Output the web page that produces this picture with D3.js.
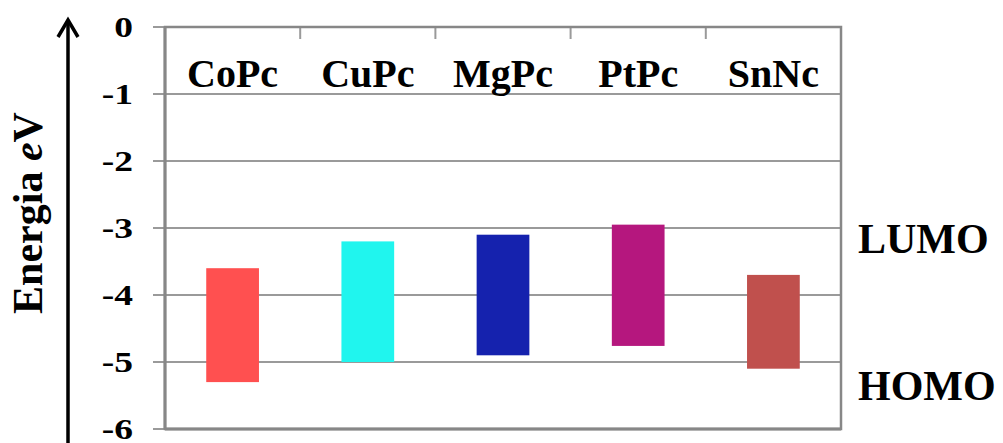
<!DOCTYPE html>
<html><head><meta charset="utf-8">
<script src="https://cdn.jsdelivr.net/npm/d3@7"></script>
<style>body{margin:0;background:#fff}svg{display:block}text{font-family:"Liberation Serif","Times New Roman",serif;font-weight:bold}</style>
</head><body>
<svg id="c" width="1003" height="443"></svg>
<script>
const categories = ["CoPc","CuPc","MgPc","PtPc","SnNc"];
const lumo = [-3.6,-3.2,-3.1,-2.95,-3.7];
const homo = [-5.3,-5.0,-4.9,-4.76,-5.1];
const colors = ["#FF5050","#20F5EE","#1522AE","#B5177E","#C0504D"];
const yTicks = [0,-1,-2,-3,-4,-5,-6];
const levelLabels = [{t:"LUMO",v:-3},{t:"HOMO",v:-5.2}];

const svg = d3.select("#c");
const L=165,R=841,T=27,B=429;
const x = d3.scaleBand().domain(categories).range([L,R]).padding(0);
const y = d3.scaleLinear().domain([0,-6]).range([T,B]);
const grey="#9a9a9a", dark="#878787";

// gridlines
svg.append("g").selectAll("line").data(yTicks.slice(1,-1)).join("line")
 .attr("x1",L).attr("x2",R).attr("y1",d=>y(d)).attr("y2",d=>y(d))
 .attr("stroke",grey).attr("stroke-width",2);
// left ticks
svg.append("g").selectAll("line").data(yTicks).join("line")
 .attr("x1",L-12).attr("x2",L).attr("y1",d=>y(d)).attr("y2",d=>y(d))
 .attr("stroke",grey).attr("stroke-width",2);
// top category separators
svg.append("g").selectAll("line").data(categories.slice(1)).join("line")
 .attr("x1",d=>x(d)).attr("x2",d=>x(d)).attr("y1",T).attr("y2",T+12)
 .attr("stroke",grey).attr("stroke-width",2);
// frame
svg.append("rect").attr("x",L).attr("y",T).attr("width",R-L).attr("height",B-T)
 .attr("fill","none").attr("stroke",dark).attr("stroke-width",2.5);
svg.append("line").attr("x1",L).attr("x2",L).attr("y1",T).attr("y2",B)
 .attr("stroke",dark).attr("stroke-width",3);
svg.append("line").attr("x1",L).attr("x2",R).attr("y1",B).attr("y2",B)
 .attr("stroke",dark).attr("stroke-width",3);

// bars
const bw = x.bandwidth()*0.39;
svg.append("g").selectAll("rect").data(categories).join("rect")
 .attr("x",d=>x(d)+x.bandwidth()/2-bw/2).attr("width",bw)
 .attr("y",(d,i)=>y(lumo[i])).attr("height",(d,i)=>y(homo[i])-y(lumo[i]))
 .attr("fill",(d,i)=>colors[i]);

// category labels
svg.append("g").selectAll("text").data(categories).join("text")
 .attr("x",d=>x(d)+x.bandwidth()/2).attr("y",87).attr("text-anchor","middle")
 .attr("font-size",40).text(d=>d);

// y tick labels (horizontally stretched)
svg.append("g").selectAll("text").data(yTicks).join("text")
 .attr("transform",d=>`translate(133,${y(d)+10}) scale(1.25,1)`)
 .attr("text-anchor","end").attr("font-size",30).text(d=>d===0?"0":"-"+Math.abs(d));

// level labels
svg.append("g").selectAll("text").data(levelLabels).join("text")
 .attr("x",858).attr("y",d=>y(d.v)+25).attr("font-size",42).text(d=>d.t);

// axis title
const tt = svg.append("text").attr("transform","translate(42,213) rotate(-90)")
 .attr("text-anchor","middle").attr("font-size",42);
tt.append("tspan").text("Energia ");
tt.append("tspan").attr("font-style","italic").text("e");
tt.append("tspan").text("V");

// arrow
svg.append("line").attr("x1",68).attr("x2",68).attr("y1",443).attr("y2",21)
 .attr("stroke","#000").attr("stroke-width",3.5);
svg.append("path").attr("d","M58,37 L68,20 L78,37").attr("fill","none")
 .attr("stroke","#000").attr("stroke-width",3.5).attr("stroke-linejoin","miter");
</script>
</body></html>
